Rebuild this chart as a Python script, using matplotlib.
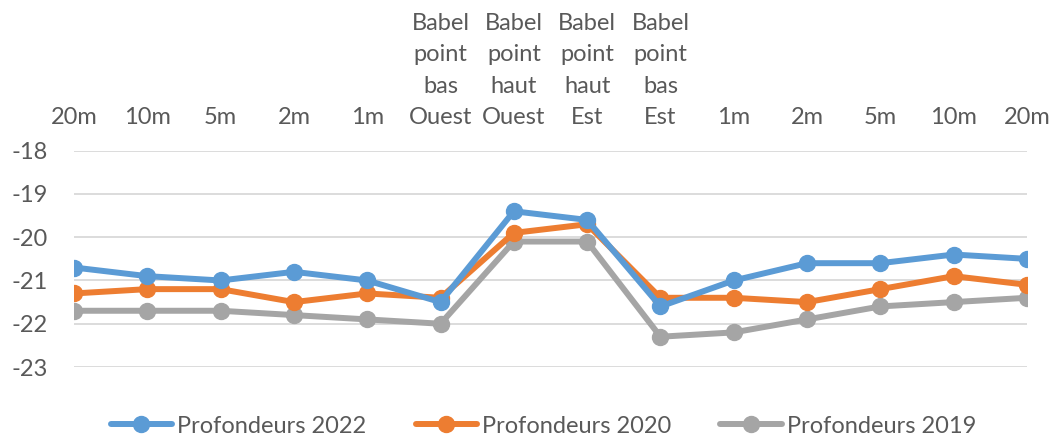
import matplotlib.pyplot as plt

# categories along the transect (labels shown at the top of the chart)
categories = ["20m", "10m", "5m", "2m", "1m",
              "Babel\npoint\nbas\nOuest", "Babel\npoint\nhaut\nOuest",
              "Babel\npoint\nhaut\nEst", "Babel\npoint\nbas\nEst",
              "1m", "2m", "5m", "10m", "20m"]

# values
prof_2022 = [-20.7, -20.9, -21.0, -20.8, -21.0, -21.5, -19.4, -19.6, -21.6, -21.0, -20.6, -20.6, -20.4, -20.5]
prof_2020 = [-21.3, -21.2, -21.2, -21.5, -21.3, -21.4, -19.9, -19.7, -21.4, -21.4, -21.5, -21.2, -20.9, -21.1]
prof_2019 = [-21.7, -21.7, -21.7, -21.8, -21.9, -22.0, -20.1, -20.1, -22.3, -22.2, -21.9, -21.6, -21.5, -21.4]

series_names = ["Profondeurs 2022", "Profondeurs 2020", "Profondeurs 2019"]
colors = ["#5B9BD5", "#ED7D31", "#A5A5A5"]
yticks = [-18, -19, -20, -21, -22, -23]

plt.rcParams['font.family'] = ['Lato', 'DejaVu Sans']
text_col = "#595959"
fs = 17

fig = plt.figure(figsize=(10.55, 4.4), dpi=100)
ax = fig.add_axes([74 / 1055, 1 - 367 / 440, (1027 - 74) / 1055, (367 - 150.7) / 440])

x = list(range(len(categories)))
# draw 2019 first so 2022 ends on top
for vals, name, col in reversed(list(zip([prof_2022, prof_2020, prof_2019], series_names, colors))):
    ax.plot(x, vals, color=col, lw=4.3, marker='o', markersize=11.5, label=name,
            solid_capstyle='round', solid_joinstyle='round')

ax.set_ylim(-23, -18)
ax.set_xlim(0, len(categories) - 1)
ax.set_yticks(yticks)
ax.set_yticklabels([str(v) for v in yticks])
ax.grid(axis='y', color='#D9D9D9', lw=1.3)
ax.set_axisbelow(True)

ax.xaxis.tick_top()
ax.set_xticks(x)
ax.set_xticklabels(categories, linespacing=1.62)
ax.tick_params(axis='x', length=0, pad=16, labelsize=fs, colors=text_col)
ax.tick_params(axis='y', length=0, pad=19, labelsize=fs, colors=text_col)
for s in ax.spines.values():
    s.set_visible(False)

handles, labels = ax.get_legend_handles_labels()
leg = fig.legend(handles[::-1], labels[::-1], loc='center', bbox_to_anchor=(0.515, 1 - 426 / 440),
                 ncol=3, frameon=False, fontsize=fs, columnspacing=2.1, handlelength=2.6,
                 handletextpad=0.2)
for t in leg.get_texts():
    t.set_color(text_col)

fig.savefig("out.png", dpi=100)
